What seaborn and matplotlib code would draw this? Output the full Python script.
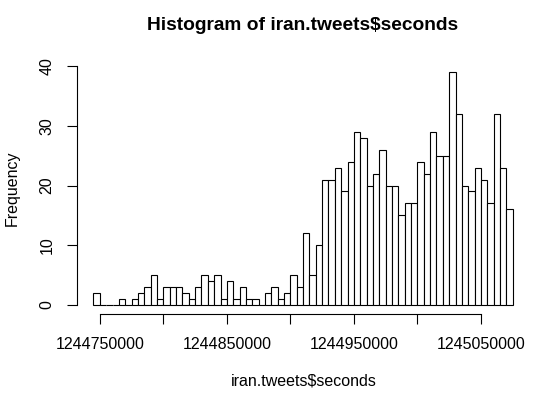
import matplotlib
matplotlib.use('Agg')
import matplotlib.pyplot as plt
import seaborn as sns
import numpy as np
import pandas as pd

# histogram bins (seconds) and counts
bin_start = 1244745000
bin_width = 5000
counts = [2, 0, 0, 0, 1, 0, 1, 2, 3, 5,
          1, 3, 3, 3, 2, 1, 3, 5, 4, 5,
          1, 4, 1, 3, 1, 1, 0, 2, 3, 1,
          2, 5, 3, 12, 5, 10, 21, 21, 23, 19,
          24, 29, 28, 20, 22, 26, 20, 20, 15, 17,
          17, 24, 22, 29, 25, 25, 39, 32, 20, 19,
          23, 21, 17, 32, 23, 16]
x_ticks = [1244750000, 1244800000, 1244850000, 1244900000,
           1244950000, 1245000000, 1245050000]
x_labels = ['1244750000', '', '1244850000', '', '1244950000', '', '1245050000']
y_ticks = [0, 10, 20, 30, 40]

edges = bin_start + bin_width * np.arange(len(counts) + 1)
df = pd.DataFrame({'seconds': edges[:-1] + bin_width / 2, 'n': counts})

sns.set_style('white')
plt.rcParams['font.family'] = ['Liberation Sans', 'DejaVu Sans']
plt.rcParams['text.color'] = 'black'
plt.rcParams['xtick.color'] = 'black'
plt.rcParams['ytick.color'] = 'black'
plt.rcParams['axes.labelcolor'] = 'black'

fig = plt.figure(figsize=(5.55, 3.98), dpi=100)
ax = fig.add_axes([0.1382, 0.2103, 0.8158, 0.6322])

sns.histplot(data=df, x='seconds', weights='n',
             binwidth=bin_width, binrange=(edges[0], edges[-1]),
             color='white', edgecolor='black', linewidth=0.8, alpha=1, ax=ax)

span = edges[-1] - edges[0]
ax.set_xlim(edges[0] - 0.04 * span, edges[-1] + 0.04 * span)
ax.set_ylim(-0.04 * max(counts), 1.04 * max(counts))

ax.set_xticks(x_ticks)
ax.set_xticklabels(x_labels, fontsize=11.5)
ax.set_yticks(y_ticks)
ax.set_yticklabels([str(v) for v in y_ticks], fontsize=11.5, rotation=90, va='center')

for s in ['top', 'right']:
    ax.spines[s].set_visible(False)
for s in ['left', 'bottom']:
    ax.spines[s].set_color('black')
    ax.spines[s].set_linewidth(0.8)
ax.spines['left'].set_bounds(y_ticks[0], y_ticks[-1])
ax.spines['bottom'].set_bounds(x_ticks[0], x_ticks[-1])
ax.tick_params(axis='both', direction='out', length=7, width=0.8, color='black',
               labelcolor='black', left=True, bottom=True)
ax.tick_params(axis='x', pad=9)
ax.tick_params(axis='y', pad=9)

ax.set_xlabel('')
ax.set_ylabel('')
fig.text(0.548, 1 - 381 / 398, 'iran.tweets$seconds', ha='center', va='center', fontsize=11.5)
fig.text(12 / 555, 1 - 188 / 398, 'Frequency', ha='center', va='center',
         rotation=90, fontsize=11.5)
fig.text(0.546, 1 - 25 / 398, 'Histogram of iran.tweets$seconds', ha='center', va='center',
         fontsize=13.8, fontweight='bold')

fig.savefig('out.png', dpi=100)
